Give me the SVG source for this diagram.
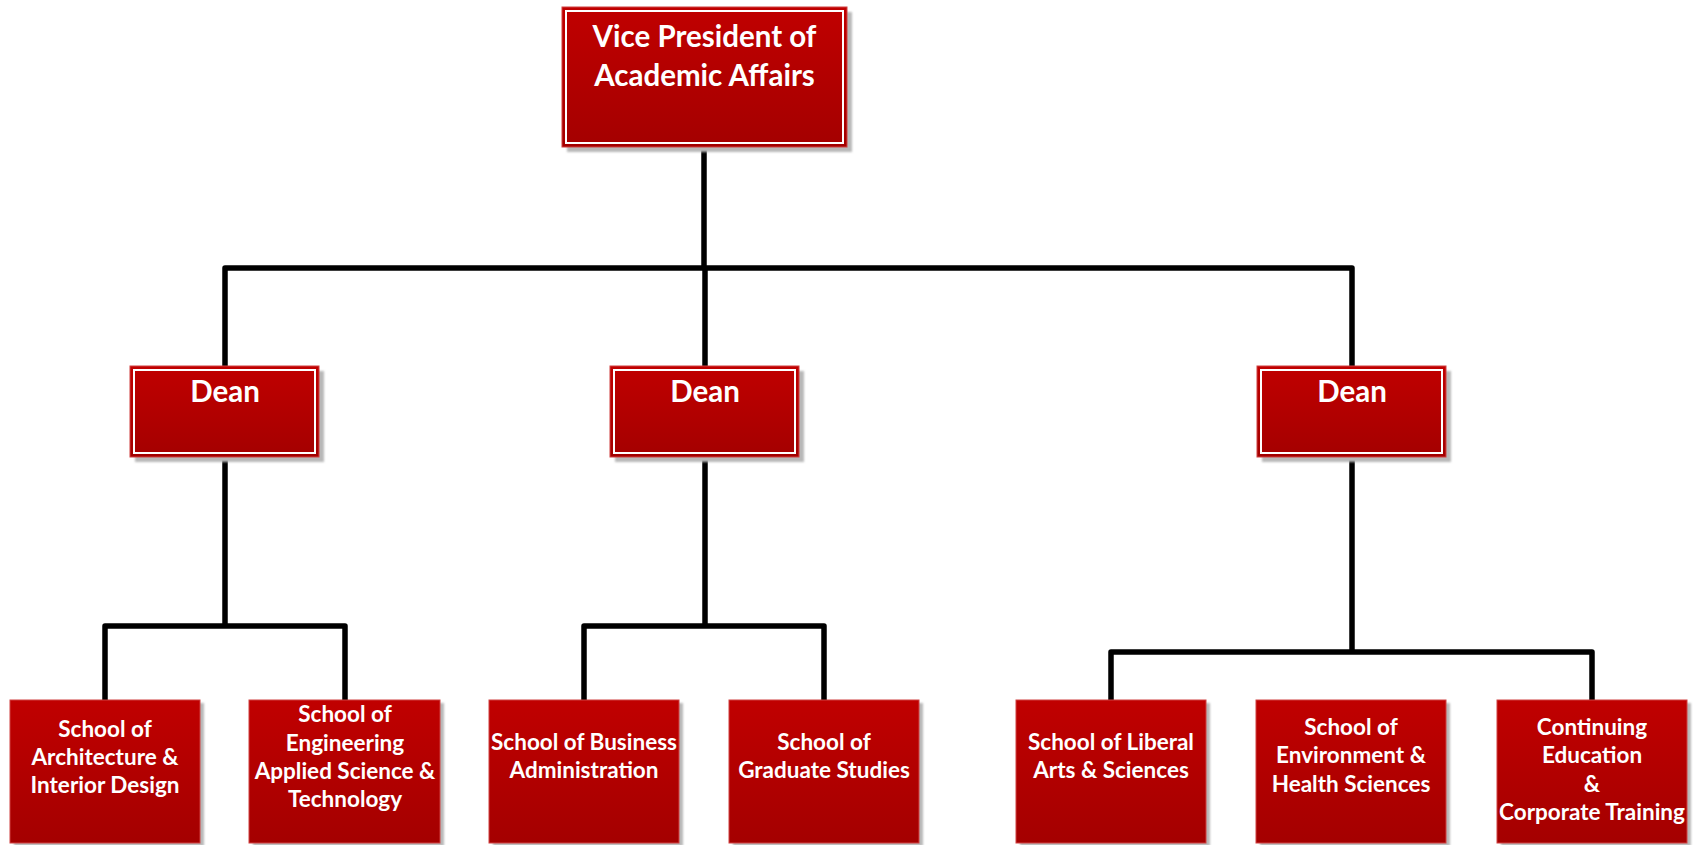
<svg xmlns="http://www.w3.org/2000/svg" width="1693" height="845" viewBox="0 0 1693 845">
<defs>
<linearGradient id="rg" x1="0" y1="0" x2="0" y2="1">
<stop offset="0" stop-color="#C00000"/>
<stop offset="1" stop-color="#A40000"/>
</linearGradient>
<filter id="sh" x="-10%" y="-10%" width="130%" height="130%">
<feGaussianBlur stdDeviation="1"/>
</filter>
</defs>
<style>
.sh{fill:#b8b8b8;filter:url(#sh)}
.bx{fill:url(#rg);stroke:#d04040;stroke-width:1}
.in{fill:none;stroke:#ffffff;stroke-width:2}
.t{font-family:Lato,"Liberation Sans",sans-serif;font-weight:bold;fill:#ffffff;text-anchor:middle}
.big{font-size:29.5px}
.sm{font-size:22.5px}
.cn{fill:none;stroke:#000000;stroke-width:5.5;stroke-linejoin:round;stroke-linecap:butt}
</style>
<rect width="1693" height="845" fill="#ffffff"/>
<g id="connectors">
<path class="cn" d="M704 147 V268"/>
<path class="cn" d="M225 367 V268 H1352 V367"/>
<path class="cn" d="M705 268 V367"/>
<path class="cn" d="M225 458 V626"/>
<path class="cn" d="M105 700 V626 H345 V700"/>
<path class="cn" d="M705 458 V626"/>
<path class="cn" d="M584 700 V626 H824 V700"/>
<path class="cn" d="M1352 458 V652"/>
<path class="cn" d="M1111 700 V652 H1592 V700"/>
</g>
<g id="vp">
<rect class="sh" x="567" y="12" width="285" height="140"/>
<rect class="bx" x="562" y="7" width="285" height="140"/>
<rect class="in" x="566" y="11" width="277" height="132"/>
<text class="t big" x="704.5" y="47">Vice President of</text>
<text class="t big" x="704.5" y="86">Academic Affairs</text>
</g>
<g id="dean1">
<rect class="sh" x="135" y="371" width="189" height="91"/>
<rect class="bx" x="130" y="366" width="189" height="91"/>
<rect class="in" x="134" y="370" width="181" height="83"/>
<text class="t big" x="225" y="402">Dean</text>
</g>
<g id="dean2">
<rect class="sh" x="615" y="371" width="189" height="91"/>
<rect class="bx" x="610" y="366" width="189" height="91"/>
<rect class="in" x="614" y="370" width="181" height="83"/>
<text class="t big" x="705" y="402">Dean</text>
</g>
<g id="dean3">
<rect class="sh" x="1262" y="371" width="189" height="91"/>
<rect class="bx" x="1257" y="366" width="189" height="91"/>
<rect class="in" x="1261" y="370" width="181" height="83"/>
<text class="t big" x="1352" y="402">Dean</text>
</g>
<g id="arch">
<rect class="sh" x="14" y="703" width="190" height="143"/>
<rect class="bx" x="10" y="700" width="190" height="143"/>
<text class="t sm" x="105" y="737">School of</text>
<text class="t sm" x="105" y="765">Architecture &amp;</text>
<text class="t sm" x="105" y="793">Interior Design</text>
</g>
<g id="eng">
<rect class="sh" x="253" y="703" width="191" height="143"/>
<rect class="bx" x="249" y="700" width="191" height="143"/>
<text class="t sm" x="345" y="722">School of</text>
<text class="t sm" x="345" y="751">Engineering</text>
<text class="t sm" x="345" y="779">Applied Science &amp;</text>
<text class="t sm" x="345" y="807">Technology</text>
</g>
<g id="bus">
<rect class="sh" x="493" y="703" width="190" height="143"/>
<rect class="bx" x="489" y="700" width="190" height="143"/>
<text class="t sm" x="584" y="750">School of Business</text>
<text class="t sm" x="584" y="778">Administration</text>
</g>
<g id="grad">
<rect class="sh" x="733" y="703" width="190" height="143"/>
<rect class="bx" x="729" y="700" width="190" height="143"/>
<text class="t sm" x="824" y="750">School of</text>
<text class="t sm" x="824" y="778">Graduate Studies</text>
</g>
<g id="lib">
<rect class="sh" x="1020" y="703" width="190" height="143"/>
<rect class="bx" x="1016" y="700" width="190" height="143"/>
<text class="t sm" x="1111" y="750">School of Liberal</text>
<text class="t sm" x="1111" y="778">Arts &amp; Sciences</text>
</g>
<g id="env">
<rect class="sh" x="1260" y="703" width="190" height="143"/>
<rect class="bx" x="1256" y="700" width="190" height="143"/>
<text class="t sm" x="1351" y="735">School of</text>
<text class="t sm" x="1351" y="763">Environment &amp;</text>
<text class="t sm" x="1351" y="792">Health Sciences</text>
</g>
<g id="cont">
<rect class="sh" x="1501" y="703" width="190" height="143"/>
<rect class="bx" x="1497" y="700" width="190" height="143"/>
<text class="t sm" x="1592" y="735">Continuing</text>
<text class="t sm" x="1592" y="763">Education</text>
<text class="t sm" x="1592" y="792">&amp;</text>
<text class="t sm" x="1592" y="820">Corporate Training</text>
</g>
</svg>
